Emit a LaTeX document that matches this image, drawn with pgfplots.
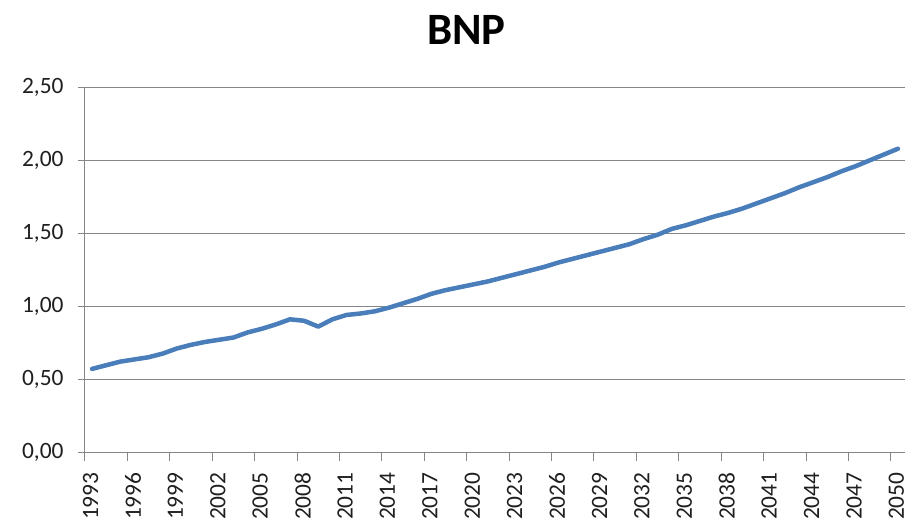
\documentclass[border=0pt]{standalone}
\usepackage{fontspec}
\setmainfont{Carlito}
\usepackage{pgfplots}
\pgfplotsset{compat=1.18}
\definecolor{linblue}{HTML}{4A7EBB}
\definecolor{gridgray}{HTML}{868686}
\begin{document}
\begin{tikzpicture}
\path[use as bounding box] (-85bp,-69bp) rectangle (821bp,452bp);
\begin{axis}[
  at={(0,0)}, anchor=south west,
  scale only axis,
  width=820bp, height=364.5bp,
  xmin=1992.5, xmax=2050.5,
  ymin=0, ymax=2.5,
  axis lines=left,
  axis line style={-, draw=gridgray, line width=1bp},
  ytick={0,0.5,1,1.5,2,2.5},
  ymajorgrids,
  grid style={gridgray, line width=1bp},
  xtick={1993,1996,...,2050},
  xticklabels={1993,1996,1999,2002,2005,2008,2011,2014,2017,2020,2023,2026,2029,2032,2035,2038,2041,2044,2047,2050},
  minor xtick={1992.5,1995.5,...,2049.5},
  major x tick style={draw=none},
  minor x tick style={draw=gridgray, line width=1bp},
  major y tick style={draw=gridgray, line width=1bp},
  tick align=outside,
  major tick length=7bp,
  minor tick length=9bp,
  tick label style={font=\fontsize{23.5}{28}\selectfont, black!88},
  xticklabel style={xshift=-1.5bp, yshift=-10bp, rotate=90, anchor=east},
  yticklabel style={xshift=-11bp, /pgf/number format/.cd, use comma, fixed, fixed zerofill, precision=2, assume math mode=true},
  clip=false,
]
\addplot[linblue, line width=4.5bp, line join=round, line cap=round] coordinates {
(1993,0.57) (1994,0.595) (1995,0.62) (1996,0.635) (1997,0.65) (1998,0.675) (1999,0.71) (2000,0.735)
(2001,0.755) (2002,0.77) (2003,0.785) (2004,0.82) (2005,0.845) (2006,0.875) (2007,0.91) (2008,0.90)
(2009,0.86) (2010,0.91) (2011,0.94) (2012,0.95) (2013,0.965) (2014,0.99) (2015,1.02) (2016,1.05)
(2017,1.085) (2018,1.11) (2019,1.13) (2020,1.15) (2021,1.17) (2022,1.195) (2023,1.22) (2024,1.245)
(2025,1.27) (2026,1.30) (2027,1.325) (2028,1.35) (2029,1.375) (2030,1.40) (2031,1.425) (2032,1.46)
(2033,1.49) (2034,1.53) (2035,1.555) (2036,1.585) (2037,1.615) (2038,1.64) (2039,1.67) (2040,1.705)
(2041,1.74) (2042,1.775) (2043,1.815) (2044,1.85) (2045,1.885) (2046,1.925) (2047,1.96) (2048,2.00)
(2049,2.04) (2050,2.08)
};
\node[font=\fontsize{45}{50}\selectfont\bfseries, anchor=center] at (rel axis cs:0.465,1) [yshift=57.5bp] {BNP};
\end{axis}
\end{tikzpicture}
\end{document}
